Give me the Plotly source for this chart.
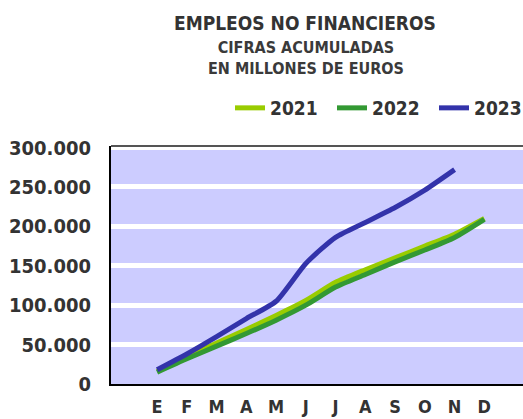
import plotly.graph_objects as go

months = ["E", "F", "M", "A", "M", "J", "J", "A", "S", "O", "N", "D"]
y2021 = [16000, 35000, 52000, 69000, 87000, 106000, 129000, 145000, 160000, 175000, 190000, 210000]
y2022 = [15000, 32000, 48000, 64000, 81000, 100000, 123000, 139000, 155000, 170000, 186000, 209000]
y2023 = [18000, 38000, 60000, 83000, 105000, 153000, 186000, 205000, 224000, 246000, 272000]
yticks = [0, 50000, 100000, 150000, 200000, 250000, 300000]
yticklabels = ["0", "50.000", "100.000", "150.000", "200.000", "250.000", "300.000"]

xs = list(range(len(months)))
fig = go.Figure()
series = [("2021", y2021, "#99CC00"), ("2022", y2022, "#339933"), ("2023", y2023, "#3333AA")]
for name, ys, col in series:
    fig.add_trace(go.Scatter(x=xs[:len(ys)], y=ys, name=name, mode="lines",
                             line=dict(color=col, width=5, shape="spline", smoothing=0.6)))

txt = "#333333"
FC = "DejaVu Sans Condensed"
L, T, B = 111, 146, 35
PW, PH = 523 - L, 419 - T - B

def px_x(p):
    return (p - L) / PW

def px_y(p):
    return 1 + (T - p) / PH

fig.update_layout(
    width=523, height=419,
    margin=dict(l=L, r=0, t=T, b=B, autoexpand=False),
    paper_bgcolor="white", plot_bgcolor="#CCCCFF",
    showlegend=True,
    legend=dict(orientation="h", x=1 + 13 / PW, xanchor="right", y=px_y(108), yanchor="middle",
                font=dict(family=FC, size=19, color=txt, weight="bold"),
                entrywidth=57, entrywidthmode="pixels",
                tracegroupgap=0, bgcolor="rgba(0,0,0,0)", itemsizing="constant"),
    font=dict(family=FC, color=txt),
)
fig.update_xaxes(range=[-1.55, 12.3], tickvals=xs, ticktext=months, showgrid=False,
                 tickfont=dict(family=FC, size=18, color=txt, weight="bold"),
                 ticks="outside", ticklen=5, tickcolor="rgba(0,0,0,0)",
                 showline=True, linecolor="black", linewidth=2, zeroline=False)
fig.update_yaxes(range=[0, 302000], tickvals=yticks, ticktext=yticklabels,
                 showgrid=True, gridcolor="white", gridwidth=5,
                 tickfont=dict(family=FC, size=20, color=txt, weight="bold"),
                 ticks="outside", ticklen=14, tickcolor="rgba(0,0,0,0)",
                 showline=True, linecolor="black", linewidth=2, zeroline=False)
fig.add_shape(type="line", xref="paper", yref="paper", x0=0, x1=1, y0=1, y1=1,
              line=dict(color="#555555", width=2))
fig.add_annotation(text="<b>EMPLEOS NO FINANCIEROS</b>", xref="paper", yref="paper",
                   x=px_x(305), xanchor="center", y=px_y(23), yanchor="middle",
                   showarrow=False, font=dict(family=FC, size=19, color=txt))
fig.add_annotation(text="<b>CIFRAS ACUMULADAS</b><br><b>EN MILLONES DE EUROS</b>", xref="paper", yref="paper",
                   x=px_x(306), xanchor="center", y=px_y(36), yanchor="top",
                   showarrow=False, font=dict(family=FC, size=16, color="#3a3a3a"))
fig.write_html("out.html")
